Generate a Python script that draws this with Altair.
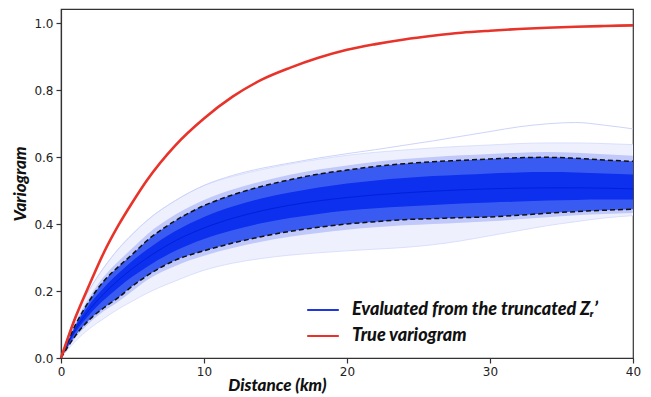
import altair as alt
import pandas as pd

# distance grid (km)
dist = [0, 1, 2, 3, 4, 5, 6, 8, 10, 12, 14, 16, 18, 20, 22, 24, 26, 28, 30, 32, 34, 36, 38, 40]

# true variogram (red)
true_vario = [0, 0.12, 0.22, 0.315, 0.395, 0.465, 0.53, 0.635, 0.715, 0.78, 0.83, 0.866, 0.896,
              0.92, 0.937, 0.951, 0.962, 0.971, 0.977, 0.982, 0.986, 0.989, 0.991, 0.993]

# band of evaluated variograms (blue), read as envelopes / percentiles
env_hi = [0, 0.125, 0.205, 0.27, 0.325, 0.37, 0.41, 0.47, 0.515, 0.542, 0.562, 0.579, 0.593,
          0.605, 0.614, 0.621, 0.627, 0.632, 0.636, 0.64, 0.642, 0.642, 0.64, 0.637]
q975 = [0, 0.105, 0.182, 0.243, 0.288, 0.328, 0.368, 0.428, 0.472, 0.503, 0.527, 0.547, 0.563,
        0.575, 0.586, 0.594, 0.6, 0.605, 0.609, 0.613, 0.615, 0.613, 0.608, 0.604]
q95 = [0, 0.098, 0.172, 0.23, 0.272, 0.31, 0.35, 0.41, 0.455, 0.487, 0.512, 0.532, 0.549,
       0.561, 0.572, 0.58, 0.586, 0.59, 0.594, 0.598, 0.599, 0.596, 0.591, 0.587]
q80 = [0, 0.093, 0.16, 0.21, 0.252, 0.29, 0.323, 0.379, 0.421, 0.452, 0.476, 0.494, 0.509,
       0.521, 0.53, 0.537, 0.543, 0.547, 0.551, 0.554, 0.555, 0.554, 0.551, 0.548]
q50 = [0, 0.085, 0.145, 0.192, 0.232, 0.267, 0.298, 0.35, 0.388, 0.417, 0.439, 0.456, 0.469,
       0.479, 0.487, 0.493, 0.498, 0.502, 0.505, 0.507, 0.508, 0.508, 0.507, 0.505]
q20 = [0, 0.076, 0.13, 0.173, 0.21, 0.243, 0.272, 0.32, 0.355, 0.381, 0.402, 0.418, 0.43,
       0.44, 0.447, 0.452, 0.457, 0.461, 0.464, 0.467, 0.47, 0.472, 0.473, 0.473]
q05 = [0, 0.066, 0.115, 0.15, 0.18, 0.215, 0.245, 0.292, 0.32, 0.343, 0.362, 0.378, 0.39,
       0.4, 0.407, 0.413, 0.416, 0.419, 0.421, 0.426, 0.432, 0.437, 0.441, 0.444]
q025 = [0, 0.06, 0.105, 0.14, 0.168, 0.2, 0.232, 0.275, 0.305, 0.328, 0.347, 0.362, 0.373,
        0.383, 0.39, 0.396, 0.4, 0.404, 0.408, 0.414, 0.42, 0.426, 0.43, 0.433]
env_lo = [0, 0.05, 0.088, 0.118, 0.146, 0.17, 0.193, 0.23, 0.262, 0.283, 0.297, 0.307, 0.314,
          0.32, 0.325, 0.33, 0.338, 0.35, 0.365, 0.38, 0.395, 0.407, 0.418, 0.425]
top_line = [0, 0.125, 0.205, 0.27, 0.325, 0.37, 0.41, 0.47, 0.515, 0.545, 0.566, 0.582, 0.597,
            0.61, 0.622, 0.635, 0.648, 0.662, 0.676, 0.69, 0.699, 0.703, 0.695, 0.684]

x_ticks = [0, 10, 20, 30, 40]
y_ticks = [0.0, 0.2, 0.4, 0.6, 0.8, 1.0]

lab_blue = "Evaluated from the truncated Zᵣ’"
lab_red = "True variogram"

df = pd.DataFrame({
    "h": dist, "red": true_vario, "hi": env_hi, "q975": q975, "q95": q95, "q80": q80,
    "q50": q50, "q20": q20, "q05": q05, "q025": q025, "lo": env_lo, "top": top_line,
})

title_font = "Lato"
xscale = alt.Scale(domain=[0, 40], nice=False, zero=False)
yscale = alt.Scale(domain=[0, 1.0418], nice=False)

X = alt.X("h:Q", scale=xscale,
          axis=alt.Axis(values=x_ticks, format="d", title="Distance (km)", grid=False,
                        titleX=216, titleY=19, titleBaseline="top", titleAnchor="middle",
                        titleAlign="center"))


def Y(field):
    return alt.Y(f"{field}:Q", scale=yscale,
                 axis=alt.Axis(values=y_ticks, format=".1f", title="Variogram", grid=False))


base = alt.Chart(df)


def band(lo, hi, color):
    return base.mark_area(color=color, opacity=1, interpolate="monotone").encode(
        x=X, y=Y(lo), y2=alt.Y2(f"{hi}:Q"))


def line(field, color, width, dash=None, opacity=1.0):
    kw = dict(color=color, strokeWidth=width, interpolate="monotone", opacity=opacity)
    if dash:
        kw["strokeDash"] = dash
    return base.mark_line(**kw).encode(x=X, y=Y(field))


layers = [
    band("lo", "hi", "#eef0fe"),
    line("hi", "#d3d9fb", 0.8),
    line("lo", "#d3d9fb", 0.8),
    line("top", "#cdd4fb", 1),
    band("q025", "q975", "#c0c9fa"),
    band("q05", "q95", "#3a5bf2"),
    band("q20", "q80", "#0d2fee"),
    line("q50", "#0020dc", 1),
    line("q95", "#111111", 1.5, [5, 3]),
    line("q05", "#111111", 1.5, [5, 3]),
]

color_scale = alt.Scale(domain=[lab_blue, lab_red], range=["#1f36e0", "#e8332a"])

legend_blue = base.transform_calculate(series=f"'{lab_blue}'").mark_line(
    strokeWidth=0, interpolate="monotone").encode(
    x=X, y=Y("q50"), color=alt.Color("series:N", scale=color_scale, title=None))

red = base.transform_calculate(series=f"'{lab_red}'").mark_line(
    strokeWidth=2.6, interpolate="monotone").encode(
    x=X, y=Y("red"), color=alt.Color("series:N", scale=color_scale, title=None))

chart = alt.layer(*layers, legend_blue, red).properties(
    width=572, height=349,
    autosize=alt.AutoSizeParams(type="none"),
    padding={"left": 53, "top": 1, "right": 10, "bottom": 37},
).configure_view(
    stroke="#333333", strokeWidth=1.2
).configure_axis(
    domainColor="#333333", domainWidth=1.2, tickColor="#333333", tickSize=5, tickWidth=1.2,
    labelFont="DejaVu Sans", labelFontSize=12, labelColor="#222222", labelPadding=3,
    titleFont=title_font, titleFontSize=17, titleFontWeight=900, titleFontStyle="italic",
    titleColor="#111111",
).configure_axisY(titlePadding=4).configure_axisX(labelFlush=False).configure_legend(
    orient="none", legendX=245, legendY=284, symbolType="stroke", symbolSize=1000,
    symbolStrokeWidth=2, labelFont=title_font, labelFontSize=18, labelFontWeight=900,
    labelFontStyle="italic", labelColor="#111111", labelOffset=12, rowPadding=-7,
    labelLimit=0,
)

chart.save("out.html", embed_options={"renderer": "svg", "actions": False})
